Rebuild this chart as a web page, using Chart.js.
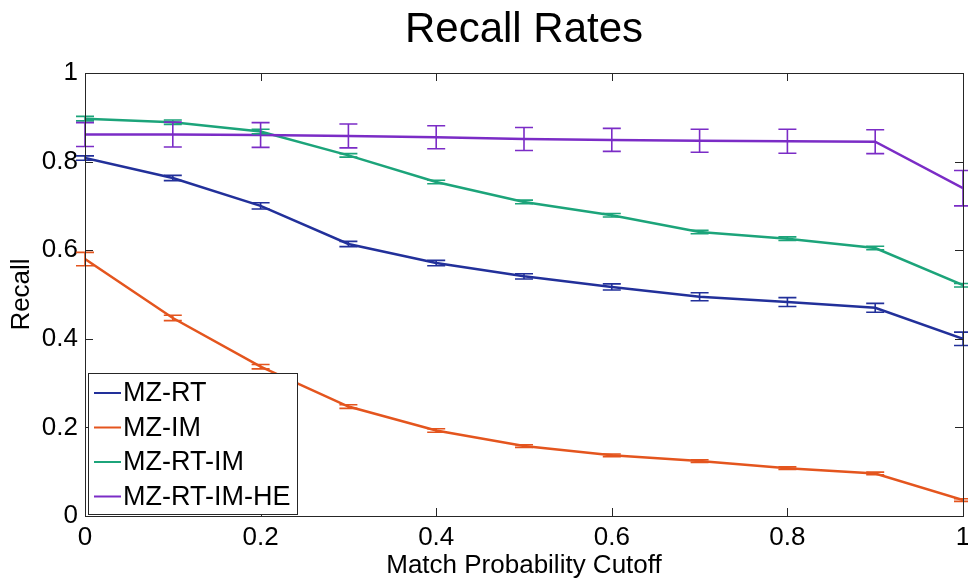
<!DOCTYPE html>
<html>
<head>
<meta charset="utf-8">
<title>Recall Rates</title>
<script src="https://cdn.jsdelivr.net/npm/chart.js@4.4.1/dist/chart.umd.min.js"></script>
<style>
  html, body { margin: 0; padding: 0; background: #fff; }
  #wrap { width: 968px; height: 583px; }
</style>
</head>
<body>
<div id="wrap"><canvas id="recallChart"></canvas></div>
<script>
// data
const cutoffs = [0, 0.1, 0.2, 0.3, 0.4, 0.5, 0.6, 0.7, 0.8, 0.9, 1];
const xTicks = [0, 0.2, 0.4, 0.6, 0.8, 1];
const yTicks = [0, 0.2, 0.4, 0.6, 0.8, 1];
const seriesNames = ['MZ-RT', 'MZ-IM', 'MZ-RT-IM', 'MZ-RT-IM-HE'];
const seriesColors = ['#22309a', '#e4551e', '#1ca47a', '#7b2cc6'];

const mzRt      = [0.808, 0.763, 0.700, 0.614, 0.571, 0.541, 0.517, 0.495, 0.483, 0.470, 0.400];
const mzRtErr   = [0.005, 0.006, 0.007, 0.006, 0.006, 0.006, 0.007, 0.009, 0.010, 0.010, 0.015];
const mzIm      = [0.580, 0.447, 0.337, 0.247, 0.193, 0.158, 0.137, 0.124, 0.108, 0.096, 0.036];
const mzImErr   = [0.015, 0.006, 0.005, 0.004, 0.004, 0.003, 0.003, 0.003, 0.003, 0.003, 0.003];
const mzRtIm    = [0.897, 0.889, 0.868, 0.814, 0.754, 0.709, 0.679, 0.641, 0.626, 0.605, 0.521];
const mzRtImErr = [0.005, 0.005, 0.005, 0.004, 0.004, 0.004, 0.004, 0.004, 0.004, 0.004, 0.004];
const mzRtImHe  = [0.861, 0.861, 0.860, 0.858, 0.855, 0.851, 0.849, 0.847, 0.846, 0.845, 0.740];
const mzRtImHeErr = [0.027, 0.028, 0.028, 0.027, 0.026, 0.026, 0.026, 0.026, 0.027, 0.027, 0.040];

const seriesValues = [mzRt, mzIm, mzRtIm, mzRtImHe];
const seriesErrors = [mzRtErr, mzImErr, mzRtImErr, mzRtImHeErr];

const FONT = "'Liberation Sans', Arial, Helvetica, sans-serif";

// error bars with caps
const errorBars = {
    id: 'errorBars',
    afterDatasetsDraw(chart) {
        const ctx = chart.ctx;
        const y = chart.scales.y;
        ctx.save();
        chart.data.datasets.forEach((ds, i) => {
            const meta = chart.getDatasetMeta(i);
            ctx.strokeStyle = ds.borderColor;
            ctx.lineWidth = 1.6;
            meta.data.forEach((pt, j) => {
                const err = seriesErrors[i][j];
                const top = y.getPixelForValue(seriesValues[i][j] + err);
                const bot = y.getPixelForValue(seriesValues[i][j] - err);
                const half = 9;
                ctx.beginPath();
                ctx.moveTo(pt.x, top); ctx.lineTo(pt.x, bot);
                ctx.moveTo(pt.x - half, top); ctx.lineTo(pt.x + half, top);
                ctx.moveTo(pt.x - half, bot); ctx.lineTo(pt.x + half, bot);
                ctx.stroke();
            });
        });
        ctx.restore();
    }
};

// box around axes, inward ticks, legend in lower left
const frameAndLegend = {
    id: 'frameAndLegend',
    afterDraw(chart) {
        const ctx = chart.ctx;
        const a = chart.chartArea;
        const xs = chart.scales.x, ys = chart.scales.y;
        ctx.save();
        ctx.strokeStyle = '#262626';
        ctx.lineWidth = 1;
        ctx.strokeRect(a.left + 0.5, a.top + 0.5, a.right - a.left, a.bottom - a.top);
        ctx.beginPath();
        xTicks.forEach(v => {
            const px = Math.round(xs.getPixelForValue(v)) + 0.5;
            ctx.moveTo(px, a.bottom); ctx.lineTo(px, a.bottom - 8);
            ctx.moveTo(px, a.top); ctx.lineTo(px, a.top + 8);
        });
        yTicks.forEach(v => {
            const py = Math.round(ys.getPixelForValue(v)) + 0.5;
            ctx.moveTo(a.left, py); ctx.lineTo(a.left + 8, py);
            ctx.moveTo(a.right, py); ctx.lineTo(a.right - 8, py);
        });
        ctx.stroke();

        // legend
        const lx = 88, ly = 373, lw = 209, lh = 141;
        ctx.fillStyle = '#fff';
        ctx.fillRect(lx, ly, lw, lh);
        ctx.strokeStyle = '#262626';
        ctx.strokeRect(lx + 0.5, ly + 0.5, lw, lh);
        ctx.font = '27px ' + FONT;
        ctx.textBaseline = 'middle';
        ctx.fillStyle = '#000';
        seriesNames.forEach((name, i) => {
            const cy = ly + 20 + i * 34.5;
            ctx.strokeStyle = seriesColors[i];
            ctx.lineWidth = 2;
            ctx.beginPath();
            ctx.moveTo(lx + 6, cy); ctx.lineTo(lx + 33, cy);
            ctx.stroke();
            ctx.fillText(name, lx + 35, cy + 1);
        });
        ctx.restore();
    }
};

const datasets = seriesNames.map((name, i) => ({
    label: name,
    data: cutoffs.map((c, j) => ({ x: c, y: seriesValues[i][j] })),
    borderColor: seriesColors[i],
    backgroundColor: seriesColors[i],
    borderWidth: 2.5,
    pointRadius: 0,
    tension: 0,
    order: seriesNames.length - 1 - i
}));

const tickText = v => String(Math.round(v * 10) / 10);

new Chart(document.getElementById('recallChart').getContext('2d'), {
    type: 'line',
    data: { datasets: datasets },
    options: {
        responsive: true,
        maintainAspectRatio: false,
        animation: false,
        layout: { padding: { left: 0, right: 5, top: 0, bottom: 0 }, autoPadding: false },
        plugins: {
            legend: { display: false },
            tooltip: { enabled: false },
            title: {
                display: true,
                fullSize: false,
                text: 'Recall Rates',
                color: '#000',
                font: { family: FONT, size: 42, weight: 'normal' },
                padding: { top: 5, bottom: 17.6 }
            }
        },
        scales: {
            x: {
                type: 'linear',
                min: 0, max: 1,
                afterBuildTicks: s => { s.ticks = xTicks.map(v => ({ value: v })); },
                afterFit: s => { s.height = 67; s.paddingLeft = 0; s.paddingRight = 0; },
                grid: { display: false, drawTicks: false },
                border: { display: false },
                ticks: { color: '#000', padding: 6, maxRotation: 0, callback: tickText, font: { family: FONT, size: 26 } },
                title: {
                    display: true,
                    text: 'Match Probability Cutoff',
                    color: '#000',
                    font: { family: FONT, size: 26 },
                    padding: { top: 0, bottom: 2 }
                }
            },
            y: {
                min: 0, max: 1,
                afterBuildTicks: s => { s.ticks = yTicks.map(v => ({ value: v })); },
                afterFit: s => { s.width = 85; s.paddingTop = 0; s.paddingBottom = 0; },
                grid: { display: false, drawTicks: false },
                border: { display: false },
                ticks: { color: '#000', padding: 7, callback: tickText, font: { family: FONT, size: 26 } },
                title: {
                    display: true,
                    text: 'Recall',
                    color: '#000',
                    font: { family: FONT, size: 26 },
                    padding: { top: 6, bottom: 0 }
                }
            }
        }
    },
    plugins: [errorBars, frameAndLegend]
});
</script>
</body>
</html>
